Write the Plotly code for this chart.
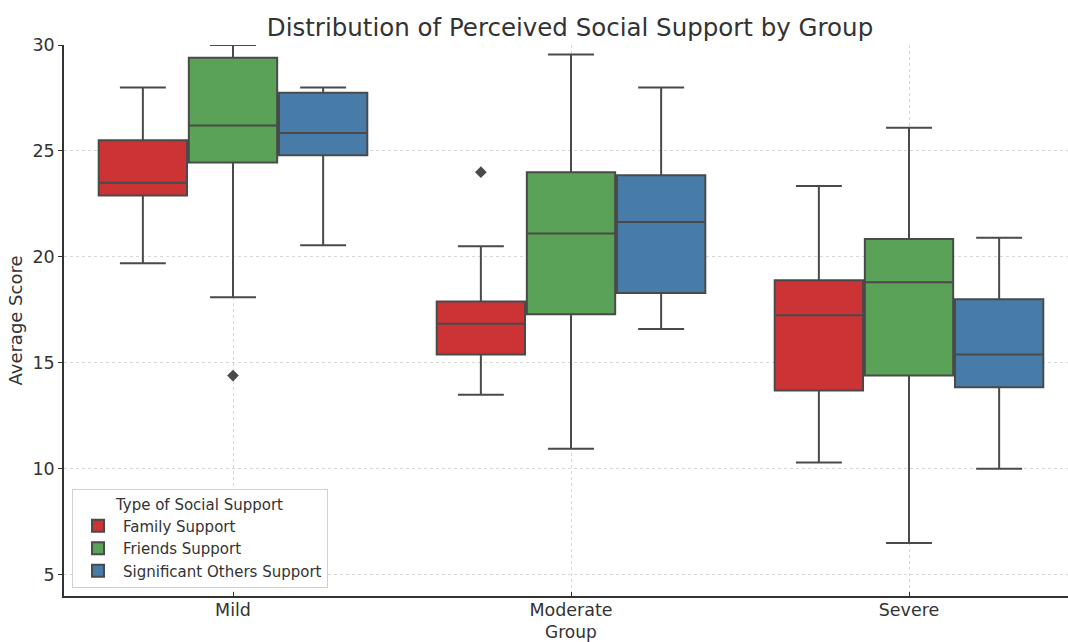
import plotly.graph_objects as go

# Groups on the x axis and the three kinds of support compared in each
groups = ["Mild", "Moderate", "Severe"]
support_types = ["Family Support", "Friends Support", "Significant Others Support"]

# Box statistics per group (Mild, Moderate, Severe)
family_low = [19.7, 13.5, 10.3]
family_q1 = [22.9, 15.4, 13.7]
family_median = [23.5, 16.85, 17.25]
family_q3 = [25.5, 17.9, 18.9]
family_high = [28.0, 20.5, 23.35]

friends_low = [18.1, 10.95, 6.5]
friends_q1 = [24.45, 17.3, 14.4]
friends_median = [26.2, 21.1, 18.8]
friends_q3 = [29.4, 24.0, 20.85]
friends_high = [30.0, 29.55, 26.1]

others_low = [20.55, 16.6, 10.0]
others_q1 = [24.8, 18.3, 13.85]
others_median = [25.85, 21.65, 15.4]
others_q3 = [27.75, 23.85, 18.0]
others_high = [28.0, 28.0, 20.9]

# Outlying points: (group, support type, value)
outlier_groups = ["Mild", "Moderate"]
outlier_types = ["Friends Support", "Family Support"]
outlier_values = [14.4, 24.0]

colors = ["#cb3335", "#59a257", "#477ca8"]
edge = "#4a4a4a"
text_color = "#333333"
font_family = "DejaVu Sans"

stats = [
    (family_low, family_q1, family_median, family_q3, family_high),
    (friends_low, friends_q1, friends_median, friends_q3, friends_high),
    (others_low, others_q1, others_median, others_q3, others_high),
]

hue_width = 0.8 / len(support_types)
offsets = [(i - 1) * hue_width for i in range(len(support_types))]
box_width = hue_width * 0.98

fig = go.Figure()

for i, name in enumerate(support_types):
    low, q1, med, q3, high = stats[i]
    xs = [g + offsets[i] for g in range(len(groups))]
    fig.add_trace(go.Box(
        x=xs,
        lowerfence=low,
        q1=q1,
        median=med,
        q3=q3,
        upperfence=high,
        name=name,
        width=box_width,
        whiskerwidth=0.52,
        fillcolor=colors[i],
        line=dict(color=edge, width=2),
        boxpoints=False,
        showlegend=True,
    ))

ox = [groups.index(g) + offsets[support_types.index(t)]
      for g, t in zip(outlier_groups, outlier_types)]
fig.add_trace(go.Scatter(
    x=ox,
    y=outlier_values,
    mode="markers",
    marker=dict(symbol="diamond", size=9, color=edge),
    showlegend=False,
    hoverinfo="skip",
))

grid_color = "rgba(190,190,190,0.6)"
grid_dash = "3px,3px"

fig.update_layout(
    width=1068,
    height=642,
    margin=dict(l=64, r=0, t=45, b=46),
    paper_bgcolor="white",
    plot_bgcolor="white",
    font=dict(family=font_family, color=text_color, size=17),
    boxmode="overlay",
    title=dict(
        text="Distribution of Perceived Social Support by Group",
        font=dict(size=24.5, color=text_color),
        x=570 / 1068,
        xref="container",
        xanchor="center",
        y=1 - 27 / 642,
        yref="container",
        yanchor="middle",
    ),
    xaxis=dict(
        range=[-0.5, 2.4704],
        tickmode="array",
        tickvals=list(range(len(groups))),
        ticktext=groups,
        showgrid=True,
        gridcolor=grid_color,
        griddash=grid_dash,
        gridwidth=1,
        showline=True,
        linecolor=text_color,
        linewidth=1.6,
        ticks="inside",
        ticklen=4,
        tickcolor=text_color,
        tickfont=dict(size=17.5, color=text_color),
        ticklabelstandoff=-3,
        zeroline=False,
        layer="above traces",
    ),
    yaxis=dict(
        range=[4, 30],
        tickmode="array",
        tickvals=[5, 10, 15, 20, 25, 30],
        showgrid=True,
        gridcolor=grid_color,
        griddash=grid_dash,
        gridwidth=1,
        showline=True,
        linecolor=text_color,
        linewidth=1.6,
        ticks="outside",
        ticklen=4,
        tickcolor=text_color,
        tickfont=dict(size=17.5, color=text_color),
        zeroline=False,
        title=dict(text="Average Score", font=dict(size=18, color=text_color), standoff=5),
        layer="above traces",
    ),
    legend=dict(
        title=dict(text="Type of Social Support", side="top center",
                   font=dict(size=15, color=text_color)),
        font=dict(size=15, color=text_color),
        x=0.008,
        y=0.0145,
        xanchor="left",
        yanchor="bottom",
        bgcolor="rgba(255,255,255,0.85)",
        bordercolor="#d0d0d0",
        borderwidth=1,
        tracegroupgap=0,
        itemwidth=40,
    ),
    annotations=[
        dict(
            text="Group",
            xref="paper",
            yref="paper",
            x=(571 - 64) / 1004,
            y=-35.5 / 551,
            xanchor="center",
            yanchor="middle",
            showarrow=False,
            font=dict(size=17, color=text_color),
        )
    ],
)

fig.write_html("out.html")
